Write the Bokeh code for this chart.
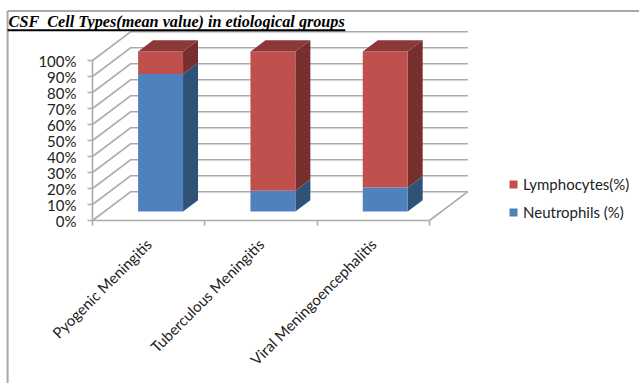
from bokeh.core.properties import value
from bokeh.embed import file_html
from bokeh.models import FixedTicker, Legend, LegendItem, LinearAxis, Range1d
from bokeh.plotting import figure
from bokeh.resources import INLINE

# Mean CSF cell composition per etiological group (percent)
categories = ["Pyogenic Meningitis", "Tuberculous Meningitis", "Viral Meningoencephalitis"]
neutrophils = [86, 13, 15]
lymphocytes = [14, 87, 85]
y_ticks = list(range(0, 101, 10))

TITLE = "CSF\u00a0 Cell Types(mean value) in etiological groups"
BLUE, BLUE_SIDE = "#4F81BD", "#2F5279"
RED, RED_SIDE, RED_TOP = "#C0504D", "#772F2D", "#8C3836"
GRID = "#ABABAB"

# Oblique projection of the 3D box: depth 1 is the back wall of the chart
DEPTH_X, DEPTH_Y = 0.342, 18.0
BAR_WIDTH, BAR_FRONT, BAR_BACK = 0.4, 0.31, 0.70


def project(cat, pct, depth):
    return cat + depth * DEPTH_X, pct + depth * DEPTH_Y


def poly(points):
    xs, ys = zip(*(project(*pt) for pt in points))
    return list(xs), list(ys)


p = figure(width=639, height=383, output_backend="svg", toolbar_location=None,
           x_range=Range1d(-92 / 112.33, 547 / 112.33),
           y_range=Range1d(-163 / 1.6, 220 / 1.6),
           min_border=0, min_border_left=0, min_border_right=0,
           min_border_top=0, min_border_bottom=0, outline_line_color=None,
           background_fill_color="white", border_fill_color="white")
p.xaxis.visible = False
p.yaxis.visible = False
p.grid.visible = False

# Side wall, back wall and floor lines
for t in y_ticks:
    xs, ys = poly([(0, t, 0), (0, t, 1), (3, t, 1)])
    p.line(xs, ys, line_color=GRID, line_width=1.6)
xs, ys = poly([(3, 0, 0), (3, 0, 1)])
p.line(xs, ys, line_color=GRID, line_width=1.6)

# Stacked bars: front face, side face and top face of each segment
legend_front = {}
for i, (n, l) in enumerate(zip(neutrophils, lymphocytes)):
    x0 = i + 0.5 - BAR_WIDTH / 2
    x1 = i + 0.5 + BAR_WIDTH / 2
    total = n + l
    for lo, hi, face, side in ((0, n, BLUE, BLUE_SIDE), (n, total, RED, RED_SIDE)):
        xs, ys = poly([(x1, lo, BAR_FRONT), (x1, lo, BAR_BACK), (x1, hi, BAR_BACK), (x1, hi, BAR_FRONT)])
        p.patch(xs, ys, fill_color=side, line_color=None)
        xs, ys = poly([(x0, lo, BAR_FRONT), (x1, lo, BAR_FRONT), (x1, hi, BAR_FRONT), (x0, hi, BAR_FRONT)])
        legend_front[face] = p.patch(xs, ys, fill_color=face, line_color=None)
    xs, ys = poly([(x0, total, BAR_FRONT), (x1, total, BAR_FRONT), (x1, total, BAR_BACK), (x0, total, BAR_BACK)])
    p.patch(xs, ys, fill_color=RED_TOP, line_color=None)

# Value axis on the front left edge
y_axis = LinearAxis(fixed_location=0, ticker=FixedTicker(ticks=y_ticks),
                    bounds=(0, 100), major_label_overrides={t: f"{t}%" for t in y_ticks},
                    axis_line_color=GRID, axis_line_width=1.6,
                    major_tick_line_color=GRID, major_tick_line_width=1.6,
                    major_tick_out=5, major_tick_in=0, minor_tick_line_color=None,
                    major_label_text_font="Lato", major_label_text_font_size="15px",
                    major_label_text_color="#222222", major_label_standoff=11)
p.add_layout(y_axis, "left")

# Category axis: ticks at the group boundaries, labels at the group centres
centres = [i + 0.5 for i in range(len(categories))]
x_axis = LinearAxis(fixed_location=0,
                    ticker=FixedTicker(ticks=centres, minor_ticks=[0, 1, 2, 3]),
                    major_label_overrides=dict(zip(centres, categories)),
                    bounds=(0, 3), axis_line_color=GRID, axis_line_width=1.6,
                    major_tick_line_color=None, minor_tick_line_color=GRID,
                    minor_tick_line_width=1.6, minor_tick_out=5, minor_tick_in=0,
                    major_label_orientation=0.785, major_label_standoff=15,
                    major_label_text_font="Lato", major_label_text_font_size="15px",
                    major_label_text_color="#222222")
p.add_layout(x_axis, "below")

# Outer frame of the figure, open on the right
p.line([-0.756, -0.756], [-102, 131], line_color="#A8A8A8", line_width=2)
p.line([-0.756, 4.87], [131, 131], line_color="#A8A8A8", line_width=2)

# Heading and its underline
p.text([-0.756], [124], text=[TITLE], text_font=value("Liberation Serif"),
       text_font_style="bold italic", text_font_size="16.2px", text_color="black",
       text_baseline="alphabetic", x_offset=1)
p.line([-0.756, 2.25], [118.9, 118.9], line_color="black", line_width=1.8)

legend = Legend(items=[LegendItem(label="Lymphocytes(%)", renderers=[legend_front[RED]]),
                       LegendItem(label="Neutrophils (%)", renderers=[legend_front[BLUE]])],
                location=(508, 162), orientation="vertical",
                glyph_width=10, glyph_height=10, spacing=10, label_standoff=5,
                label_text_font="Lato", label_text_font_size="15px",
                label_text_color="#222222", background_fill_alpha=0,
                border_line_color=None, margin=0, padding=0)
p.add_layout(legend, "center")

open("out.html", "w").write(file_html(p, INLINE))
